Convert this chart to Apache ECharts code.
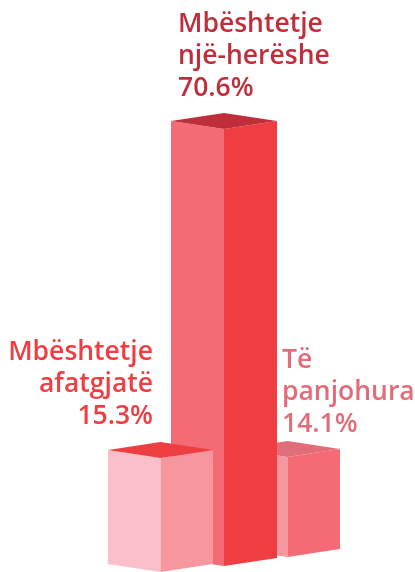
<!DOCTYPE html>
<html>
<head>
<meta charset="utf-8">
<title>Mbështetje</title>
<script src="https://cdn.jsdelivr.net/npm/echarts@6/dist/echarts.min.js"></script>
<style>
html, body { margin: 0; padding: 0; background: #fff; }
</style>
</head>
<body>
	<div id="main" style="width: 415px; height: 572px;"></div>

	<script type="text/javascript">
		var categories = ['Mbështetje\nafatgjatë', 'Mbështetje\nnjë-herëshe', 'Të\npanjohura'];
		var values = [15.3, 70.6, 14.1];

		// front edge of each column: every column has its own scale, as in the picture
		var grids = [
		    { left: 108, width: 105, top: 458, height: 118 },
		    { left: 171, width: 106, top: 129, height: 437 },
		    { left: 235, width: 105, top: 457, height: 100 }
		];
		var faces = [
		    { left: '#f9bfcb', right: '#f7969f', top: '#ef3e42' },
		    { left: '#f56b75', right: '#ef3e42', top: '#bf2f3b' },
		    { left: '#f7969f', right: '#f56b75', top: '#e26d7a' }
		];
		var labelStyle = [
		    { x: 153, y: 336, align: 'right', color: '#ef3e42' },
		    { x: 178, y: 8, align: 'left', color: '#bf2f3b' },
		    { x: 282, y: 344, align: 'left', color: '#e26d7a' }
		];
		var depth = 8;

		function renderColumn(params, api) {
		    var i = params.seriesIndex;
		    var top = api.coord([0, api.value(1)]);
		    var base = api.coord([0, 0]);
		    var half = api.size([1, 0])[0] / 2;
		    var cx = top[0];
		    var c = faces[i];
		    return {
		        type: 'group',
		        children: [
		            {
		                type: 'polygon',
		                shape: { points: [[cx - half, top[1] - depth], [cx, top[1]], [cx, base[1]], [cx - half, base[1] - depth]] },
		                style: { fill: c.left }
		            },
		            {
		                type: 'polygon',
		                shape: { points: [[cx, top[1]], [cx + half, top[1] - depth], [cx + half, base[1] - depth], [cx, base[1]]] },
		                style: { fill: c.right }
		            },
		            {
		                type: 'polygon',
		                shape: { points: [[cx - half, top[1] - depth], [cx, top[1] - depth * 2], [cx + half, top[1] - depth], [cx, top[1]]] },
		                style: { fill: c.top }
		            }
		        ]
		    };
		}

		var myChart = echarts.init(document.getElementById('main'));

		var option = {
		    animation: false,
		    grid: grids,
		    xAxis: grids.map(function (g, i) {
		        return { type: 'category', gridIndex: i, data: [categories[i]], show: false };
		    }),
		    yAxis: grids.map(function (g, i) {
		        return { type: 'value', gridIndex: i, min: 0, max: values[i], show: false };
		    }),
		    series: values.map(function (v, i) {
		        return {
		            type: 'custom',
		            name: categories[i],
		            xAxisIndex: i,
		            yAxisIndex: i,
		            z: [3, 2, 1][i],
		            clip: false,
		            renderItem: renderColumn,
		            data: [[0, v]]
		        };
		    }),
		    graphic: values.map(function (v, i) {
		        var s = labelStyle[i];
		        return {
		            type: 'text',
		            x: s.x,
		            y: s.y,
		            z: 10,
		            style: {
		                text: categories[i] + '\n' + v.toFixed(1) + '%',
		                fill: s.color,
		                align: s.align,
		                font: '600 26.5px "Open Sans"',
		                lineHeight: 32
		            }
		        };
		    })
		};

		myChart.setOption(option);
	</script>
</body>
</html>
